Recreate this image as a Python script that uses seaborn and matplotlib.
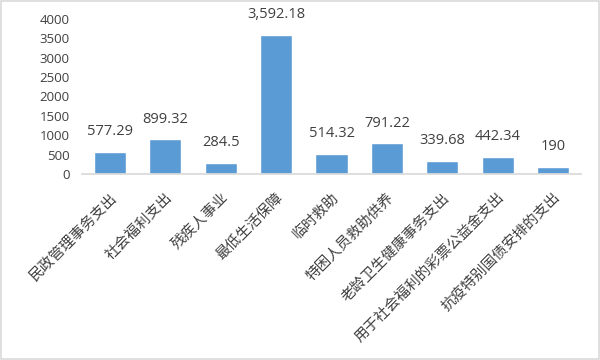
import matplotlib
matplotlib.use("Agg")
import matplotlib.pyplot as plt
import seaborn as sns
import pandas as pd
from matplotlib.patches import Rectangle

categories = ["民政管理事务支出", "社会福利支出", "残疾人事业", "最低生活保障", "临时救助",
              "特困人员救助供养", "老龄卫生健康事务支出", "用于社会福利的彩票公益金支出", "抗疫特别国债安排的支出"]
values = [577.29, 899.32, 284.5, 3592.18, 514.32, 791.22, 339.68, 442.34, 190]
value_labels = ["577.29", "899.32", "284.5", "3,592.18", "514.32", "791.22", "339.68", "442.34", "190"]
yticks = [0, 500, 1000, 1500, 2000, 2500, 3000, 3500, 4000]

sns.set_theme(style="white")
plt.rcParams['font.family'] = ['Noto Sans CJK SC', 'DejaVu Sans']

df = pd.DataFrame({"cat": categories, "val": values})
fig = plt.figure(figsize=(6, 3.6), dpi=100)
ax = fig.add_axes([0.137, 0.517, 0.831, 0.43])
sns.barplot(data=df, x="cat", y="val", color="#5B9BD5", saturation=1, width=0.58, ax=ax)

ax.set_ylim(0, 4000)
ax.set_yticks(yticks)
ax.set_yticklabels([str(t) for t in yticks], fontsize=9.5, color="#404040", family=["Open Sans", "DejaVu Sans"])
ax.set_xlabel("")
ax.set_ylabel("")
for s in ["top", "right", "left"]:
    ax.spines[s].set_visible(False)
ax.spines["bottom"].set_color("#D9D9D9")
ax.tick_params(axis="both", length=0)
ax.tick_params(axis="y", pad=9)
ax.set_xticks(range(len(categories)))
ax.set_xticklabels(categories, rotation=45, ha="right", rotation_mode="anchor",
                   fontsize=10.5, color="#404040")
ax.tick_params(axis="x", pad=12)

for i, (v, lab) in enumerate(zip(values, value_labels)):
    ax.annotate(lab, (i, v), xytext=(0, 9), textcoords="offset points", ha="center", va="bottom",
                fontsize=10.5, color="#404040", family=["Open Sans", "DejaVu Sans"])

fig.patches.append(Rectangle((0.002, 0.003), 0.996, 0.994, transform=fig.transFigure,
                             fill=False, edgecolor="#D9D9D9", linewidth=1.2))
fig.savefig("out.png", dpi=100, facecolor="white")
